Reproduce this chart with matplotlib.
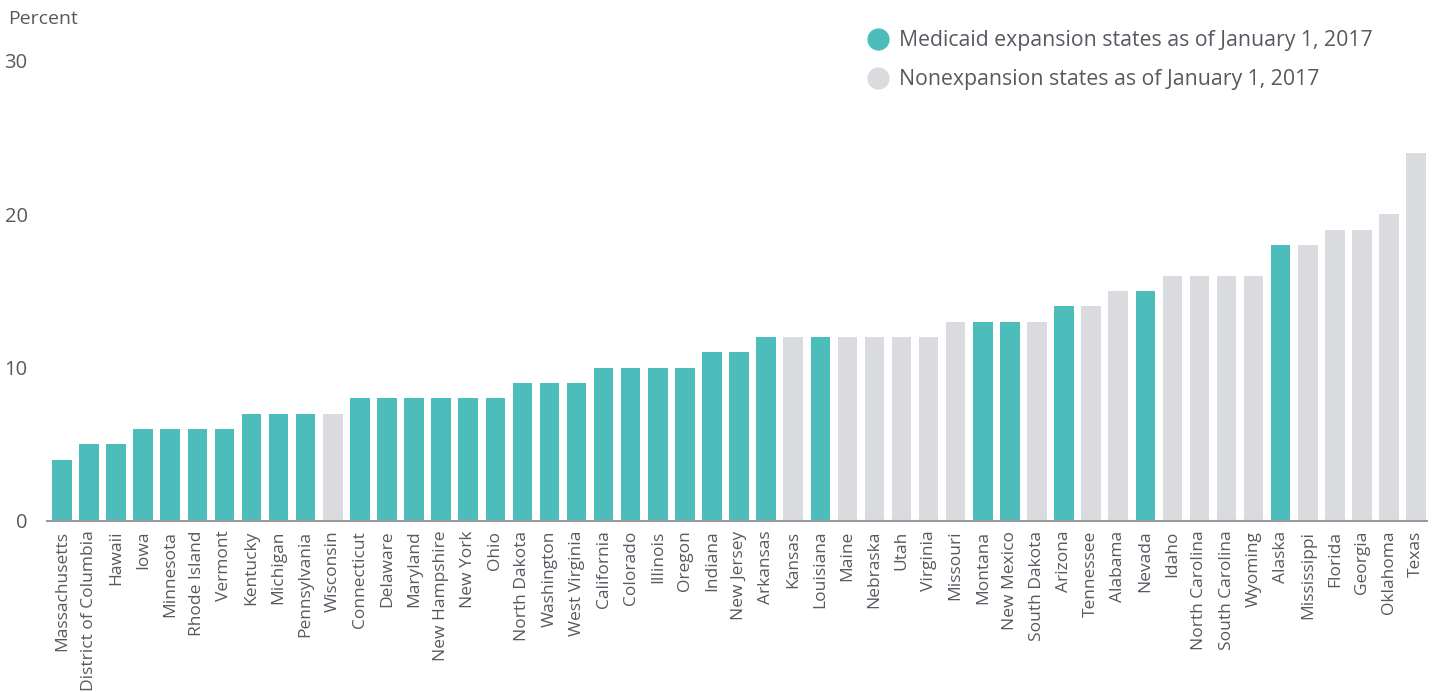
import matplotlib
matplotlib.use("Agg")
import matplotlib.pyplot as plt
from matplotlib.lines import Line2D

states = ["Massachusetts", "District of Columbia", "Hawaii", "Iowa", "Minnesota",
          "Rhode Island", "Vermont", "Kentucky", "Michigan", "Pennsylvania",
          "Wisconsin", "Connecticut", "Delaware", "Maryland", "New Hampshire",
          "New York", "Ohio", "North Dakota", "Washington", "West Virginia",
          "California", "Colorado", "Illinois", "Oregon", "Indiana", "New Jersey",
          "Arkansas", "Kansas", "Louisiana", "Maine", "Nebraska", "Utah", "Virginia",
          "Missouri", "Montana", "New Mexico", "South Dakota", "Arizona", "Tennessee",
          "Alabama", "Nevada", "Idaho", "North Carolina", "South Carolina", "Wyoming",
          "Alaska", "Mississippi", "Florida", "Georgia", "Oklahoma", "Texas"]
values = [4, 5, 5, 6, 6, 6, 6, 7, 7, 7, 7, 8, 8, 8, 8, 8, 8, 9, 9, 9,
          10, 10, 10, 10, 11, 11, 12, 12, 12, 12, 12, 12, 12, 13, 13, 13, 13, 14, 14,
          15, 15, 16, 16, 16, 16, 18, 18, 19, 19, 20, 24]
expansion = [1, 1, 1, 1, 1, 1, 1, 1, 1, 1, 0, 1, 1, 1, 1, 1, 1, 1, 1, 1,
             1, 1, 1, 1, 1, 1, 1, 0, 1, 0, 0, 0, 0, 0, 1, 1, 0, 1, 0,
             0, 1, 0, 0, 0, 0, 1, 0, 0, 0, 0, 0]
yticks = [0, 10, 20, 30]
legend_labels = ["Medicaid expansion states as of January 1, 2017",
                 "Nonexpansion states as of January 1, 2017"]

TEAL = "#4DBDBC"
GREY = "#DADBDF"
TEXT = "#555A60"

plt.rcParams['font.family'] = ['Open Sans', 'DejaVu Sans']

fig = plt.figure(figsize=(14.39, 6.92), dpi=100)
ax = fig.add_axes([47/1439, 171/692, 1380/1439, 460/692])

x = list(range(len(states)))
colors = [TEAL if e else GREY for e in expansion]
ax.bar(x, values, width=0.72, color=colors, zorder=2)

ax.set_xlim(-0.55, 50.4)
ax.set_ylim(0, 30)
ax.set_yticks(yticks)
ax.set_yticklabels([str(t) for t in yticks], fontsize=14.5, color=TEXT)
ax.set_xticks(x)
ax.set_xticklabels(states, rotation=90, fontsize=12.5, color=TEXT)
ax.tick_params(axis='y', length=0, pad=14)
ax.tick_params(axis='x', length=0, pad=7)

for s in ["top", "right", "left"]:
    ax.spines[s].set_visible(False)
ax.spines["bottom"].set_color("#999999")
ax.spines["bottom"].set_linewidth(1.5)
ax.spines["bottom"].set_zorder(3)

fig.text(8/1439, 1 - 19/692, "Percent", fontsize=14, color=TEXT, va="center", ha="left")

handles = [Line2D([], [], marker='o', linestyle='none', markersize=16, markerfacecolor=TEAL, markeredgecolor='none'),
           Line2D([], [], marker='o', linestyle='none', markersize=16, markerfacecolor=GREY, markeredgecolor='none')]
leg = fig.legend(handles, legend_labels, loc="upper left", bbox_to_anchor=(866/1439, 1 - 30/692),
                 frameon=False, fontsize=15.3, labelcolor=TEXT, handletextpad=0.45,
                 labelspacing=0.85, handlelength=1.1, borderaxespad=0, borderpad=0)

fig.savefig("out.png", dpi=100)
